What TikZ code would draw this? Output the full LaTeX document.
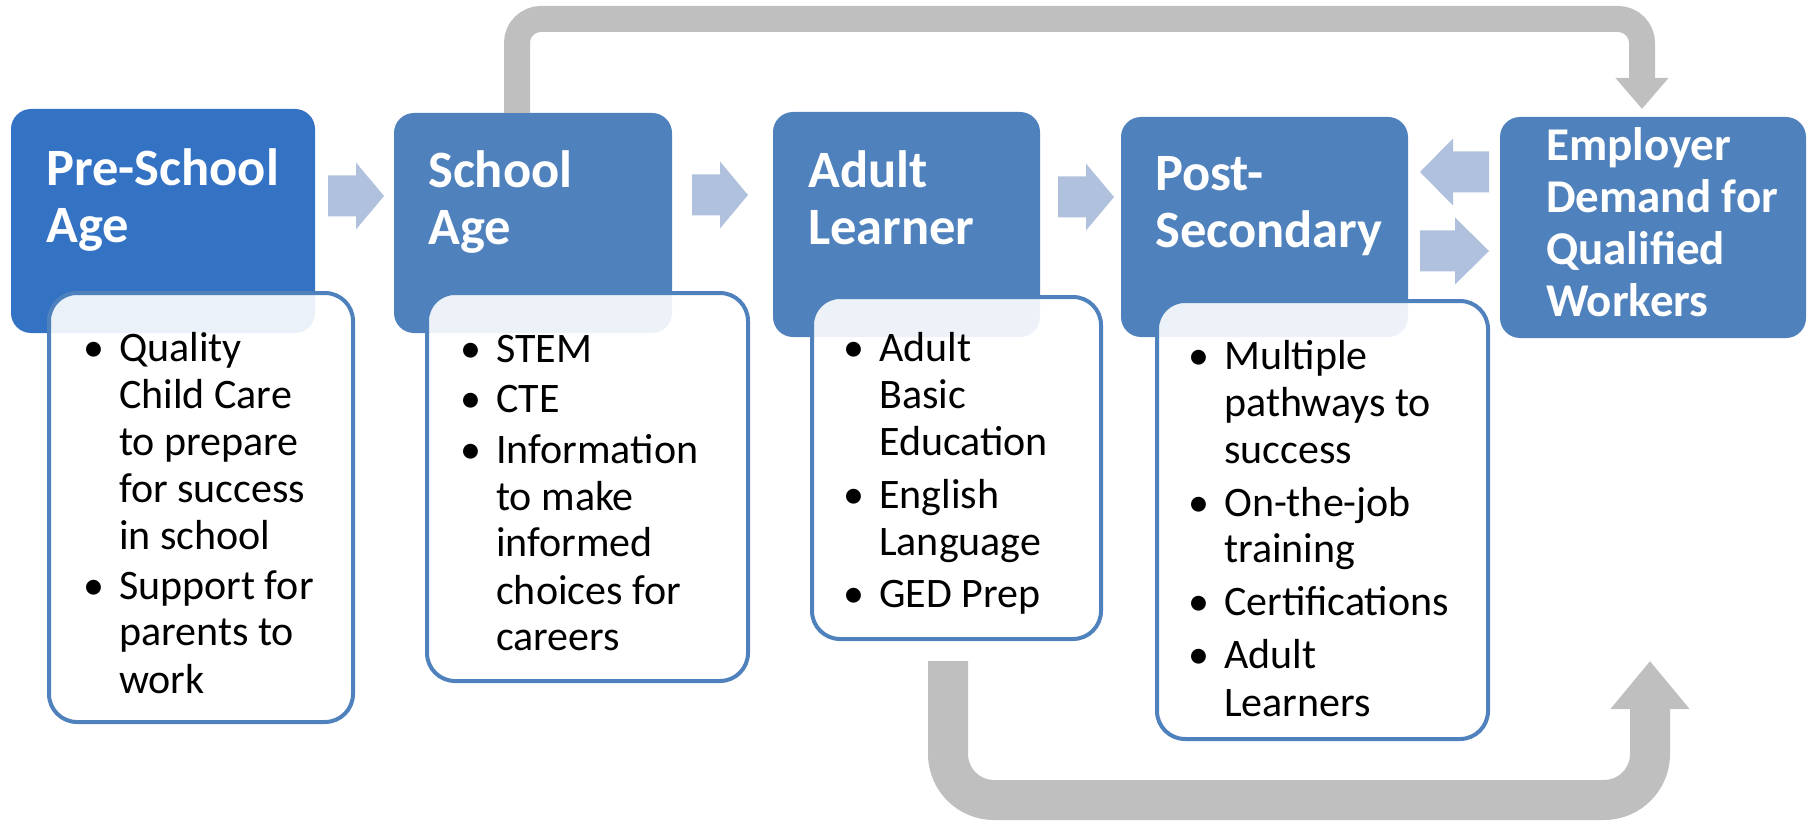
\documentclass[tikz,border=0pt]{standalone}
\usepackage{fontspec}
\setmainfont{Carlito}
\usetikzlibrary{arrows.meta}
\definecolor{hdr}{RGB}{79,129,189}
\definecolor{hdrA}{RGB}{52,114,196}
\definecolor{barrow}{RGB}{176,193,222}
\definecolor{garrow}{RGB}{191,191,191}
\newcommand\hdrfont{\fontsize{52.5}{57}\selectfont\bfseries}
\newcommand\empfont{\fontsize{47}{52}\selectfont\bfseries}
\newcommand\detfont{\fontsize{42}{47}\selectfont}
\newcommand\bu{\llap{\textbullet\hspace{15pt}}}
\newcommand\blockarr[4]{%
  \fill[barrow] ({#1},{#3-20.5}) -- ({#2-(#4)},{#3-20.5}) -- ({#2-(#4)},{#3-33.5}) -- ({#2},{#3})
    -- ({#2-(#4)},{#3+33.5}) -- ({#2-(#4)},{#3+20.5}) -- ({#1},{#3+20.5}) -- cycle;}
\begin{document}
\begin{tikzpicture}[x=1pt,y=-1pt,
  hdrbox/.style={draw=none, fill=hdr, rounded corners=20pt, inner sep=0pt},
  detbox/.style={draw=hdr, line width=4pt, fill=white, fill opacity=0.9, draw opacity=1, rounded corners=28pt, inner sep=0pt},
  htext/.style={anchor=base west, inner sep=0pt, text=white, font=\hdrfont},
  etext/.style={anchor=base west, inner sep=0pt, text=white, font=\empfont},
  dtext/.style={anchor=base west, inner sep=0pt, text=black, font=\detfont},
  gline/.style={draw=garrow, rounded corners=#1},
]
\useasboundingbox (0,0) rectangle (1816,821);

% header boxes
\node[hdrbox, fill=hdrA, minimum width=304pt, minimum height=224pt] (pre) at (163,221) {};
\node[hdrbox, minimum width=278pt, minimum height=220pt] (school) at (533,223) {};
\node[hdrbox, minimum width=267pt, minimum height=225pt] (adult) at (906.5,224.5) {};
\node[hdrbox, minimum width=287pt, minimum height=220pt] (post) at (1264.5,227) {};
\node[hdrbox, minimum width=306pt, minimum height=221pt] (employer) at (1653,227.5) {};

% gray feedback arrows
\coordinate (ga) at (517,19);
\coordinate (gb) at (1642,19);
\coordinate (gtip) at (1642,109);
\draw[gline=24pt, line width=26pt, -{Triangle[width=51pt,length=31pt]}]
  (school.north -| ga) -- (ga) -- (gb) -- (gtip);
\coordinate (gs) at (948,661);
\coordinate (gc) at (948,800);
\coordinate (gd) at (1650,800);
\coordinate (gtip2) at (1650,661);
\draw[gline=46pt, line width=40pt, -{Triangle[width=76pt,length=48pt]}]
  (gs) -- (gc) -- (gd) -- (gtip2);

% detail boxes
\node[detbox, minimum width=304pt, minimum height=429pt] (dpre) at (201,507.5) {};
\node[detbox, minimum width=321pt, minimum height=388pt] (dschool) at (587.5,487) {};
\node[detbox, minimum width=289pt, minimum height=342pt] (dadult) at (956.5,468) {};
\node[detbox, minimum width=331pt, minimum height=438pt] (dpost) at (1322.5,520) {};

% block arrows between stages
\blockarr{328}{384}{196}{28}
\blockarr{692}{748}{195}{28}
\blockarr{1058}{1114}{197}{28}
\blockarr{1489}{1420}{172}{-33}
\blockarr{1420}{1489}{251}{34}

% header texts
\node[htext] (preT) at (46,186) {\begin{tabular}[t]{@{}l@{}}Pre-School\\Age\end{tabular}};
\node[htext] (schoolT) at (428,188) {\begin{tabular}[t]{@{}l@{}}School\\Age\end{tabular}};
\node[htext] (adultT) at (808,188) {\begin{tabular}[t]{@{}l@{}}Adult\\Learner\end{tabular}};
\node[htext] (postT) at (1155,191) {\begin{tabular}[t]{@{}l@{}}Post-\\Secondary\end{tabular}};
\node[etext] (employerT) at (1546,161) {\begin{tabular}[t]{@{}l@{}}Employer\\Demand for\\Qualified\\Workers\end{tabular}};

% detail texts
\node[dtext] (dpreT) at (119,361) {\begin{tabular}[t]{@{}l@{}}\bu Quality\\Child Care\\to prepare\\for success\\in school\\[3pt]\bu Support for\\parents to\\work\end{tabular}};
\node[dtext] (dschoolT) at (496,362) {\begin{tabular}[t]{@{}l@{}}\bu STEM\\[3pt]\bu CTE\\[4pt]\bu Information\\to make\\informed\\choices for\\careers\end{tabular}};
\node[dtext] (dadultT) at (879,361) {\begin{tabular}[t]{@{}l@{}}\bu Adult\\Basic\\Education\\[6pt]\bu English\\Language\\[6pt]\bu GED Prep\end{tabular}};
\node[dtext] (dpostT) at (1224,369) {\begin{tabular}[t]{@{}l@{}}\bu Multiple\\pathways to\\success\\[6pt]\bu On-the-job\\training\\[6pt]\bu Certifications\\[6pt]\bu Adult\\Learners\end{tabular}};
\end{tikzpicture}
\end{document}
